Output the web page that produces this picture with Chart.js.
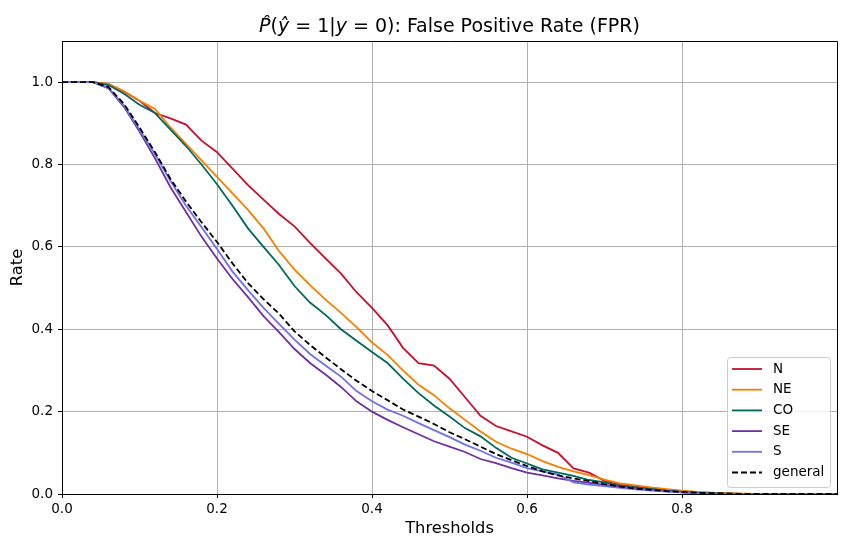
<!DOCTYPE html>
<html>
<head>
<meta charset="utf-8">
<script src="https://cdn.jsdelivr.net/npm/chart.js@4"></script>
<style>
  body { margin: 0; background: #fff; }
  #wrap { width: 850px; height: 548px; }
</style>
</head>
<body>
<div id="wrap"><canvas id="chart-fpr" width="850" height="548"></canvas></div>
<script>
// thresholds (x) and FPR per region (y)
const thresholds = [0, 0.02, 0.04, 0.06, 0.08, 0.10, 0.12, 0.14, 0.16, 0.18, 0.20, 0.22, 0.24, 0.26, 0.28, 0.30, 0.32, 0.34, 0.36, 0.38, 0.40, 0.42, 0.44, 0.46, 0.48, 0.50, 0.52, 0.54, 0.56, 0.58, 0.60, 0.62, 0.64, 0.66, 0.68, 0.70, 0.72, 0.74, 0.76, 0.78, 0.80, 0.82, 0.84, 0.86, 0.88, 0.90, 0.92, 0.94, 0.96, 0.98, 1.00];

const fprN = [1, 1, 1, 0.995, 0.977, 0.955, 0.925, 0.912, 0.897, 0.858, 0.83, 0.79, 0.75, 0.715, 0.68, 0.65, 0.61, 0.572, 0.535, 0.49, 0.452, 0.41, 0.355, 0.318, 0.312, 0.28, 0.235, 0.19, 0.165, 0.152, 0.139, 0.118, 0.1, 0.062, 0.052, 0.032, 0.022, 0.018, 0.014, 0.01, 0.006, 0.004, 0.002, 0.001, 0, 0, 0, 0, 0, 0, 0];
const fprNE = [1, 1, 1, 0.996, 0.978, 0.955, 0.935, 0.89, 0.85, 0.81, 0.77, 0.73, 0.69, 0.645, 0.59, 0.545, 0.507, 0.472, 0.44, 0.405, 0.368, 0.338, 0.30, 0.265, 0.24, 0.208, 0.18, 0.152, 0.127, 0.11, 0.097, 0.08, 0.066, 0.055, 0.046, 0.035, 0.026, 0.021, 0.016, 0.012, 0.008, 0.005, 0.003, 0.002, 0.001, 0, 0, 0, 0, 0, 0];
const fprCO = [1, 1, 1, 0.993, 0.972, 0.945, 0.925, 0.885, 0.845, 0.80, 0.752, 0.70, 0.645, 0.60, 0.556, 0.505, 0.465, 0.435, 0.40, 0.372, 0.345, 0.318, 0.28, 0.245, 0.215, 0.188, 0.16, 0.14, 0.112, 0.088, 0.074, 0.06, 0.052, 0.044, 0.034, 0.028, 0.02, 0.016, 0.012, 0.008, 0.005, 0.003, 0.002, 0.001, 0, 0, 0, 0, 0, 0, 0];
const fprSE = [1, 1, 1, 0.985, 0.94, 0.88, 0.815, 0.745, 0.685, 0.625, 0.572, 0.522, 0.478, 0.432, 0.393, 0.352, 0.318, 0.29, 0.26, 0.225, 0.20, 0.18, 0.162, 0.145, 0.128, 0.115, 0.102, 0.085, 0.075, 0.063, 0.052, 0.045, 0.038, 0.032, 0.027, 0.022, 0.018, 0.014, 0.01, 0.007, 0.004, 0.002, 0.001, 0, 0, 0, 0, 0, 0, 0, 0];
const fprS = [1, 1, 1, 0.986, 0.943, 0.885, 0.825, 0.76, 0.70, 0.648, 0.595, 0.54, 0.495, 0.452, 0.413, 0.375, 0.34, 0.312, 0.285, 0.25, 0.225, 0.205, 0.19, 0.172, 0.155, 0.138, 0.12, 0.105, 0.088, 0.076, 0.063, 0.055, 0.047, 0.028, 0.023, 0.019, 0.015, 0.011, 0.008, 0.006, 0.004, 0.002, 0.001, 0, 0, 0, 0, 0, 0, 0, 0];
const fprGeneral = [1, 1, 1, 0.988, 0.947, 0.89, 0.83, 0.765, 0.71, 0.66, 0.612, 0.56, 0.512, 0.473, 0.438, 0.395, 0.362, 0.332, 0.303, 0.275, 0.25, 0.228, 0.205, 0.188, 0.17, 0.15, 0.133, 0.115, 0.097, 0.082, 0.068, 0.055, 0.045, 0.038, 0.031, 0.024, 0.018, 0.013, 0.01, 0.007, 0.005, 0.003, 0.002, 0.001, 0, 0, 0, 0, 0, 0, 0];

const seriesLabels = ['N', 'NE', 'CO', 'SE', 'S', 'general'];
const seriesValues = [fprN, fprNE, fprCO, fprSE, fprS, fprGeneral];
const seriesColors = ['#c8102e', '#f77f00', '#00695c', '#7030a0', '#7070f0', '#000000'];

const xTicks = [0, 0.2, 0.4, 0.6, 0.8];
const yTicks = [0, 0.2, 0.4, 0.6, 0.8, 1.0];

const FONT = 'DejaVu Sans';

// title with the math part in italic
const titleParts = [
    ['P\u0302', true], ['(', false], ['y\u0302', true], [' = 1|', false],
    ['y', true], [' = 0)', false], [': False Positive Rate (FPR)', false]
];

const titlePlugin = {
    id: 'mathTitle',
    afterDraw(chart) {
        const ctx = chart.ctx;
        const a = chart.chartArea;
        const size = 19;
        ctx.save();
        ctx.fillStyle = '#000';
        ctx.textBaseline = 'alphabetic';
        ctx.textAlign = 'left';
        let total = 0;
        const widths = titleParts.map(([t, it]) => {
            ctx.font = (it ? 'italic ' : '') + size + 'px "' + FONT + '"';
            const w = ctx.measureText(t).width;
            total += w;
            return w;
        });
        let x = (a.left + a.right) / 2 - total / 2;
        titleParts.forEach(([t, it], i) => {
            ctx.font = (it ? 'italic ' : '') + size + 'px "' + FONT + '"';
            ctx.fillText(t, x, 32);
            x += widths[i];
        });
        ctx.restore();
    }
};

// top and right spines
const framePlugin = {
    id: 'frame',
    afterDatasetsDraw(chart) {
        const ctx = chart.ctx;
        const a = chart.chartArea;
        ctx.save();
        ctx.strokeStyle = '#000';
        ctx.lineWidth = 1;
        ctx.beginPath();
        ctx.moveTo(Math.round(a.left), Math.round(a.top) + 0.5);
        ctx.lineTo(Math.round(a.right) + 0.5, Math.round(a.top) + 0.5);
        ctx.lineTo(Math.round(a.right) + 0.5, Math.round(a.bottom));
        ctx.stroke();
        ctx.restore();
    }
};

// legend box in the lower right corner of the axes
const legendPlugin = {
    id: 'boxLegend',
    afterDraw(chart) {
        const ctx = chart.ctx;
        const a = chart.chartArea;
        const w = 103, h = 130, r = 3;
        const x0 = a.right - 7 - w, y0 = a.bottom - 7 - h;
        ctx.save();
        ctx.beginPath();
        ctx.roundRect(x0 + 0.5, y0 + 0.5, w, h, r);
        ctx.fillStyle = 'rgba(255,255,255,0.8)';
        ctx.fill();
        ctx.strokeStyle = '#cccccc';
        ctx.lineWidth = 1;
        ctx.stroke();
        ctx.font = '13.5px "' + FONT + '"';
        ctx.textBaseline = 'middle';
        ctx.textAlign = 'left';
        seriesLabels.forEach((lab, i) => {
            const y = y0 + 12 + i * 20.7;
            ctx.beginPath();
            ctx.strokeStyle = seriesColors[i];
            ctx.lineWidth = 1.8;
            ctx.setLineDash(lab === 'general' ? [6, 3] : []);
            ctx.moveTo(x0 + 5, y);
            ctx.lineTo(x0 + 35, y);
            ctx.stroke();
            ctx.setLineDash([]);
            ctx.fillStyle = '#000';
            ctx.fillText(lab, x0 + 46, y);
        });
        ctx.restore();
    }
};

function buildDatasets() {
    return seriesLabels.map((lab, i) => ({
        label: lab,
        data: thresholds.map((t, j) => ({ x: t, y: seriesValues[i][j] })),
        borderColor: seriesColors[i],
        backgroundColor: seriesColors[i],
        borderWidth: 1.8,
        borderDash: lab === 'general' ? [6, 3] : [],
        pointRadius: 0,
        tension: 0,
        order: seriesLabels.length - i
    }));
}

function renderChart() {
    const ctx = document.getElementById('chart-fpr').getContext('2d');
    new Chart(ctx, {
        type: 'line',
        data: { datasets: buildDatasets() },
        plugins: [framePlugin, legendPlugin, titlePlugin],
        options: {
            responsive: false,
            animation: false,
            layout: { padding: { top: 41, right: 13, bottom: 0, left: 0 } },
            plugins: {
                legend: { display: false },
                title: { display: false },
                tooltip: { enabled: false }
            },
            scales: {
                x: {
                    type: 'linear',
                    min: 0,
                    max: 1,
                    afterBuildTicks: s => { s.ticks = xTicks.map(v => ({ value: v })); },
                    afterFit: s => { s.height = 54; },
                    grid: { color: '#b0b0b0', lineWidth: 1, tickColor: '#000', tickLength: 4 },
                    border: { color: '#000', width: 1 },
                    ticks: {
                        color: '#000', padding: 3, maxRotation: 0,
                        font: { family: FONT, size: 13.5 },
                        callback: v => v.toFixed(1)
                    },
                    title: {
                        display: true, text: 'Thresholds', color: '#000',
                        font: { family: FONT, size: 16.3 },
                        padding: { top: 0, bottom: 9 }
                    }
                },
                y: {
                    min: 0,
                    max: 1.1,
                    afterBuildTicks: s => { s.ticks = yTicks.map(v => ({ value: v })); },
                    afterFit: s => { s.width = 62; },
                    grid: { color: '#b0b0b0', lineWidth: 1, tickColor: '#000', tickLength: 4 },
                    border: { color: '#000', width: 1 },
                    ticks: {
                        color: '#000', padding: 5,
                        font: { family: FONT, size: 13.5 },
                        callback: v => v.toFixed(1)
                    },
                    title: {
                        display: true, text: 'Rate', color: '#000',
                        font: { family: FONT, size: 16.3 },
                        padding: { top: 8, bottom: 0 }
                    }
                }
            }
        }
    });
}

document.addEventListener('DOMContentLoaded', renderChart);
</script>
</body>
</html>
